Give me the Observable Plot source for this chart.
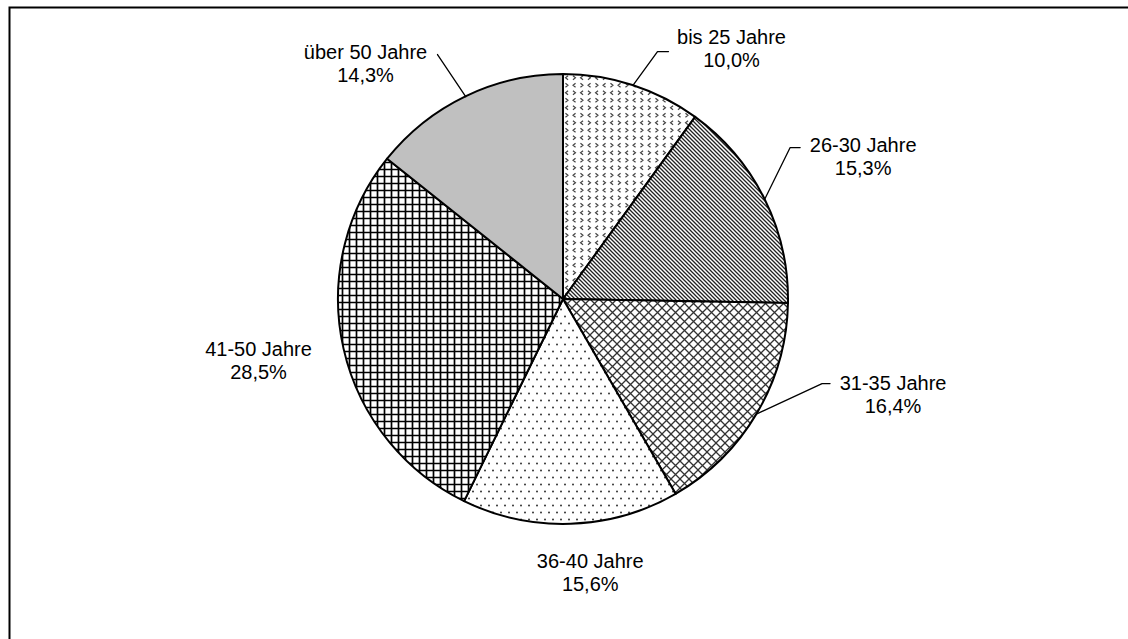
<!DOCTYPE html>
<html>
<head>
<meta charset="utf-8">
<script src="https://cdn.jsdelivr.net/npm/d3@7"></script>
<script src="https://cdn.jsdelivr.net/npm/@observablehq/plot@0.6"></script>
<style>
  html, body { margin: 0; padding: 0; background: #fff; overflow: hidden; }
  #chart svg { display: block; }
</style>
</head>
<body>
<div id="chart"></div>
<script>
// ---- data ----
const categories = ["bis 25 Jahre", "26-30 Jahre", "31-35 Jahre", "36-40 Jahre", "41-50 Jahre", "über 50 Jahre"];
const shares = [10.0, 15.3, 16.4, 15.6, 28.5, 14.3];
const shareLabels = ["10,0%", "15,3%", "16,4%", "15,6%", "28,5%", "14,3%"];

// ---- styling / layout ----
const W = 1128, H = 639;
const CX = 563, CY = 299, R = 225;               // pie centre (px) and radius (data units = px)
const sliceFills = ["url(#p-conf)", "url(#p-diag)", "url(#p-cross)", "url(#p-dots)", "url(#p-grid)", "#c0c0c0"];
// label block centre in polar form [angle from 12 o'clock (deg), distance]
const labelPolar = [[33.8, 302], [64.5, 332], [106.1, 343], [174.4, 274], [258.7, 311], [320.0, 308]];
// leader-line bends relative to the label centre
const leaderBends = [[[-74, 3], [-63, 3]], [[-73, -9], [-63, -9]], [[-71, -11], [-63, -11]], null, null, [[72, -9]]];

const slices = categories.map((c, i) => ({category: c, share: shares[i], label: c + "\n" + shareLabels[i], i}));
const arcs = d3.pie().sort(null).value(d => d.share)(slices);

const rad = a => a * Math.PI / 180;
const labelData = slices.map((d, i) => {
  const [a, r] = labelPolar[i];
  return {...d, x: r * Math.sin(rad(a)), y: -r * Math.cos(rad(a))};
});
const leaderData = [];
arcs.forEach((a, i) => {
  const b = leaderBends[i];
  if (!b) return;
  const m = (a.startAngle + a.endAngle) / 2;
  leaderData.push({category: categories[i], x: R * Math.sin(m), y: -R * Math.cos(m)});
  b.forEach(([dx, dy]) => leaderData.push({category: categories[i], x: labelData[i].x + dx, y: labelData[i].y + dy}));
});

function pieMark(index, scales, values, dimensions, context) {
  const g = d3.create("svg:g");
  const defs = g.append("defs");
  const pat = (id, w, h) => {
    const p = defs.append("pattern").attr("id", id).attr("patternUnits", "userSpaceOnUse")
      .attr("width", w).attr("height", h);
    p.append("rect").attr("width", w).attr("height", h).attr("fill", "#fff");
    return p;
  };
  // chevron confetti
  const pc = pat("p-conf", 15, 15);
  const lt = (x, y) => `M${x + 1.3},${y - 2} L${x - 1.2},${y} L${x + 1.3},${y + 2}`;
  const gt = (x, y) => `M${x - 1.3},${y - 2} L${x + 1.2},${y} L${x - 1.3},${y + 2}`;
  pc.append("path").attr("d", lt(3.75, 3.75) + gt(11.25, 3.75) + gt(3.75, 11.25) + lt(11.25, 11.25))
    .attr("fill", "none").attr("stroke", "#444").attr("stroke-width", 1.2);
  // dense diagonal lines
  const pd = pat("p-diag", 4, 4);
  pd.append("path").attr("d", "M-1,-1 L5,5 M-1,3 L1,5 M3,-1 L5,1")
    .attr("stroke", "#222").attr("stroke-width", 1.3);
  // diagonal crosshatch
  const px = pat("p-cross", 9, 9);
  px.append("path").attr("d", "M0,0 L9,9 M9,0 L0,9")
    .attr("stroke", "#333").attr("stroke-width", 1.3);
  // sparse dots
  const pdt = pat("p-dots", 8, 14);
  pdt.append("circle").attr("cx", 2).attr("cy", 3.5).attr("r", 1).attr("fill", "#333");
  pdt.append("circle").attr("cx", 6).attr("cy", 10.5).attr("r", 1).attr("fill", "#333");
  // square grid
  const pg = pat("p-grid", 7, 7);
  pg.append("path").attr("d", "M0,3.5 H7 M3.5,0 V7")
    .attr("stroke", "#000").attr("stroke-width", 1.7);

  const cx = scales.x(0), cy = scales.y(0), r = scales.x(R) - scales.x(0);
  const arc = d3.arc().innerRadius(0).outerRadius(r);
  g.append("g").attr("transform", `translate(${cx},${cy})`)
    .selectAll("path").data(arcs).join("path")
    .attr("d", arc)
    .attr("fill", (d, i) => sliceFills[i])
    .attr("stroke", "#000").attr("stroke-width", 2).attr("stroke-linejoin", "round");
  return g.node();
}

const chart = Plot.plot({
  width: W,
  height: H,
  margin: 0,
  x: {domain: [-CX, W - CX], range: [0, W], axis: null},
  y: {domain: [-CY, H - CY], range: [0, H], axis: null},
  style: {background: "#fff"},
  marks: [
    Plot.frame({stroke: "#000", strokeWidth: 2, insetLeft: 9, insetTop: 7, insetRight: -10, insetBottom: -10}),
    pieMark,
    Plot.line(leaderData, {x: "x", y: "y", z: "category", stroke: "#000", strokeWidth: 1.3}),
    Plot.text(labelData, {
      x: "x", y: "y", text: "label",
      fontSize: 20, lineHeight: 1.15,
      fontFamily: "'Liberation Sans', Arial, sans-serif",
      fill: "#000", textAnchor: "middle", lineAnchor: "middle"
    })
  ]
});
document.getElementById("chart").appendChild(chart);
</script>
</body>
</html>
